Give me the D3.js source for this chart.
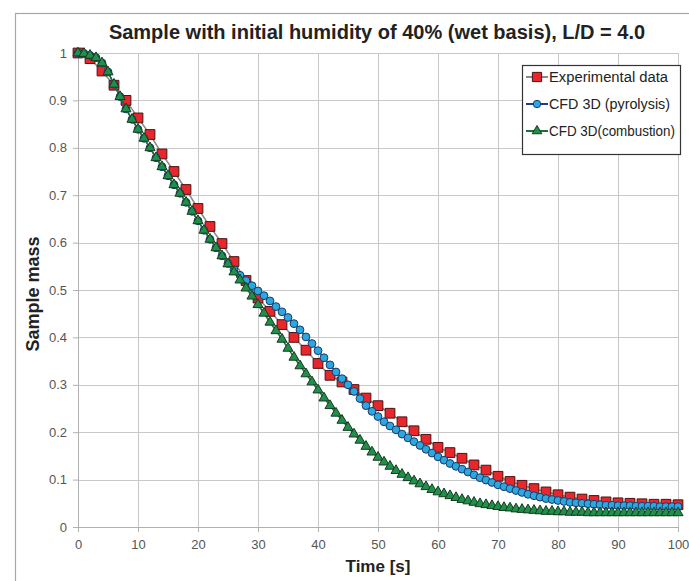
<!DOCTYPE html>
<html><head><meta charset="utf-8">
<script src="https://cdn.jsdelivr.net/npm/d3@7"></script>
<style>
body{margin:0;background:#fff}
svg{display:block}
text{font-family:"Liberation Sans",Arial,Helvetica,sans-serif}
</style>
</head><body>
<svg id="chart" width="689" height="581"></svg>
<script>
// ---------- data ----------
const titleText = "Sample with initial humidity of 40% (wet basis), L/D = 4.0";
const xLabel = "Time [s]";
const yLabel = "Sample mass";
const seriesNames = ["Experimental data", "CFD 3D (pyrolysis)", "CFD 3D(combustion)"];
const xTicks = [0,10,20,30,40,50,60,70,80,90,100];
const yTicks = [0,0.1,0.2,0.3,0.4,0.5,0.6,0.7,0.8,0.9,1];

const expTime = [0,2,4,6,8,10,12,14,16,18,20,22,24,26,28,30,32,34,36,38,40,42,44,46,48,50,
  52,54,56,58,60,62,64,66,68,70,72,74,76,78,80,82,84,86,88,90,92,94,96,98,100];
const expMass = [1.000,0.988,0.962,0.932,0.900,0.863,0.828,0.787,0.750,0.712,0.672,0.634,0.598,0.560,0.520,0.483,0.455,0.427,0.400,0.373,0.345,
  0.320,0.306,0.290,0.272,0.256,0.240,0.222,0.203,0.185,0.168,0.157,0.145,0.131,0.120,0.107,0.096,0.088,0.081,0.074,0.068,
  0.063,0.059,0.056,0.053,0.051,0.050,0.049,0.048,0.048,0.047];

const simTime = [0,1,2,3,4,5,6,7,8,9,10,11,12,13,14,15,16,17,18,19,20,21,22,23,24,25,26,27,28,29,30,
  31,32,33,34,35,36,37,38,39,40,41,42,43,44,45,46,47,48,49,50,51,52,53,54,55,56,57,58,59,60,
  61,62,63,64,65,66,67,68,69,70,71,72,73,74,75,76,77,78,79,80,81,82,83,84,85,86,87,88,89,90,
  91,92,93,94,95,96,97,98,99,100];
const pyroMass = [1.000,0.999,0.995,0.990,0.979,0.960,0.934,0.908,0.882,0.860,0.839,0.820,0.800,0.779,0.760,0.741,0.722,0.704,0.685,0.666,0.646,
  0.626,0.607,0.589,0.572,0.556,0.543,0.531,0.520,0.509,0.498,0.488,0.477,0.465,0.454,0.442,0.429,0.416,0.401,0.387,0.372,
  0.357,0.342,0.327,0.313,0.300,0.286,0.271,0.256,0.244,0.233,0.222,0.213,0.205,0.196,0.188,0.180,0.172,0.164,0.156,0.148,
  0.141,0.134,0.128,0.122,0.116,0.110,0.104,0.099,0.094,0.089,0.085,0.081,0.077,0.073,0.069,0.066,0.063,0.060,0.058,0.056,
  0.054,0.052,0.051,0.050,0.049,0.048,0.047,0.046,0.046,0.045,0.045,0.045,0.044,0.044,0.044,0.044,0.043,0.043,0.043,0.043];
const combMass = [1.000,0.999,0.995,0.990,0.979,0.960,0.934,0.908,0.882,0.860,0.839,0.820,0.800,0.779,0.760,0.741,0.722,0.704,0.685,0.666,0.646,
  0.626,0.607,0.589,0.572,0.555,0.538,0.521,0.504,0.487,0.469,0.451,0.432,0.414,0.396,0.377,0.358,0.340,0.323,0.306,0.289,
  0.272,0.256,0.240,0.225,0.210,0.196,0.183,0.170,0.158,0.147,0.137,0.128,0.119,0.111,0.104,0.097,0.091,0.085,0.079,0.074,
  0.070,0.066,0.062,0.058,0.055,0.052,0.049,0.047,0.045,0.043,0.041,0.040,0.038,0.037,0.036,0.035,0.034,0.033,0.033,0.032,
  0.032,0.031,0.031,0.031,0.030,0.030,0.030,0.030,0.030,0.030,0.030,0.030,0.030,0.030,0.030,0.030,0.030,0.030,0.030,0.030];

// ---------- layout ----------
const svg = d3.select("#chart");
const W = 689, H = 581;
const plot = {left: 78, right: 678, top: 53, bottom: 527};

const x = d3.scaleLinear().domain([0,100]).range([plot.left, plot.right]);
const y = d3.scaleLinear().domain([0,1]).range([plot.bottom, plot.top]);

svg.append("rect").attr("width", W).attr("height", H).attr("fill", "#fff");
// outer frame
svg.append("rect").attr("x", 15.5).attr("y", 13.5).attr("width", W).attr("height", H)
  .attr("fill", "none").attr("stroke", "#a8a8a8").attr("stroke-width", 1.2);

// gridlines
const grid = svg.append("g");
grid.selectAll("line.v").data(xTicks).join("line")
  .attr("x1", d => Math.round(x(d)) + 0.5).attr("x2", d => Math.round(x(d)) + 0.5)
  .attr("y1", plot.top).attr("y2", plot.bottom)
  .attr("stroke", "#c8c8c8").attr("stroke-width", 1);
grid.selectAll("line.h").data(yTicks).join("line")
  .attr("y1", d => Math.round(y(d)) + 0.5).attr("y2", d => Math.round(y(d)) + 0.5)
  .attr("x1", plot.left).attr("x2", plot.right)
  .attr("stroke", "#c8c8c8").attr("stroke-width", 1);

// axes (labels only)
const xAxis = d3.axisBottom(x).tickValues(xTicks).tickSize(5).tickPadding(8).tickFormat(d3.format("d"));
const gx = svg.append("g").attr("transform", `translate(0,${plot.bottom})`).call(xAxis);
gx.select(".domain").attr("stroke", "#b0b0b0");
gx.selectAll(".tick line").attr("stroke", "#b0b0b0");
gx.selectAll("text").attr("font-size", 13).attr("fill", "#555")
  .style("font-family", '"Liberation Sans",Arial,sans-serif');

const yAxis = d3.axisLeft(y).tickValues(yTicks).tickSize(5).tickPadding(6).tickFormat(d => d3.format("")(+d.toFixed(1)));
const gy = svg.append("g").attr("transform", `translate(${plot.left},0)`).call(yAxis);
gy.select(".domain").attr("stroke", "#b0b0b0");
gy.selectAll(".tick line").attr("stroke", "#b0b0b0");
gy.selectAll("text").attr("font-size", 13).attr("fill", "#555")
  .style("font-family", '"Liberation Sans",Arial,sans-serif');

// title & axis labels
svg.append("text").attr("x", 377).attr("y", 39).attr("text-anchor", "middle")
  .attr("font-size", 20).attr("font-weight", "bold").attr("fill", "#222").text(titleText);
svg.append("text").attr("x", 378).attr("y", 572).attr("text-anchor", "middle")
  .attr("font-size", 17).attr("font-weight", "bold").attr("fill", "#222").text(xLabel);
svg.append("text").attr("transform", "translate(39,294) rotate(-90)").attr("text-anchor", "middle")
  .attr("font-size", 18).attr("font-weight", "bold").attr("fill", "#222").text(yLabel);

// ---------- series ----------
const expData = expTime.map((t,i) => ({t, m: expMass[i]}));
const pyroData = simTime.map((t,i) => ({t, m: pyroMass[i]}));
const combData = simTime.map((t,i) => ({t, m: combMass[i]}));

const line = d3.line().x(d => x(d.t)).y(d => y(d.m));

const styles = [
  {data: expData, line: "#8a8a8a", fill: "#e8262b", stroke: "#4a1212", sym: d3.symbolSquare, size: 95},
  {data: pyroData, line: "#1f3d8f", fill: "#2aa8df", stroke: "#1a3a6a", sym: d3.symbolCircle, size: 48},
  {data: combData, line: "#1e6e3a", fill: "#1f8f4a", stroke: "#153a20", sym: d3.symbolTriangle, size: 44}
];

styles.forEach(s => {
  const g = svg.append("g");
  g.append("path").datum(s.data).attr("d", line)
    .attr("fill", "none").attr("stroke", s.line).attr("stroke-width", 1.5);
  g.selectAll("path.m").data(s.data).join("path").attr("class", "m")
    .attr("transform", d => `translate(${x(d.t)},${y(d.m)})`)
    .attr("d", d3.symbol().type(s.sym).size(s.size))
    .attr("fill", s.fill).attr("stroke", s.stroke).attr("stroke-width", 1);
});

// ---------- legend ----------
const lg = svg.append("g").attr("transform", "translate(522,65)");
lg.append("rect").attr("x", 0.5).attr("y", 0.5).attr("width", 158).attr("height", 89)
  .attr("fill", "#fff").attr("stroke", "#333").attr("stroke-width", 1.2);
const legYs = [12, 39, 66];
const legWidths = [119, 121, 126];
styles.forEach((s, i) => {
  const yy = legYs[i];
  lg.append("line").attr("x1", 4).attr("x2", 26).attr("y1", yy).attr("y2", yy)
    .attr("stroke", s.line).attr("stroke-width", 2);
  lg.append("path").attr("transform", `translate(15,${yy})`)
    .attr("d", d3.symbol().type(s.sym).size(s.size * 0.9)).attr("fill", s.fill)
    .attr("stroke", s.stroke).attr("stroke-width", 1);
  lg.append("text").attr("x", 27).attr("y", yy + 5).attr("font-size", 14)
    .attr("textLength", legWidths[i]).attr("lengthAdjust", "spacingAndGlyphs")
    .attr("fill", "#222").text(seriesNames[i]);
});
</script>
</body></html>
